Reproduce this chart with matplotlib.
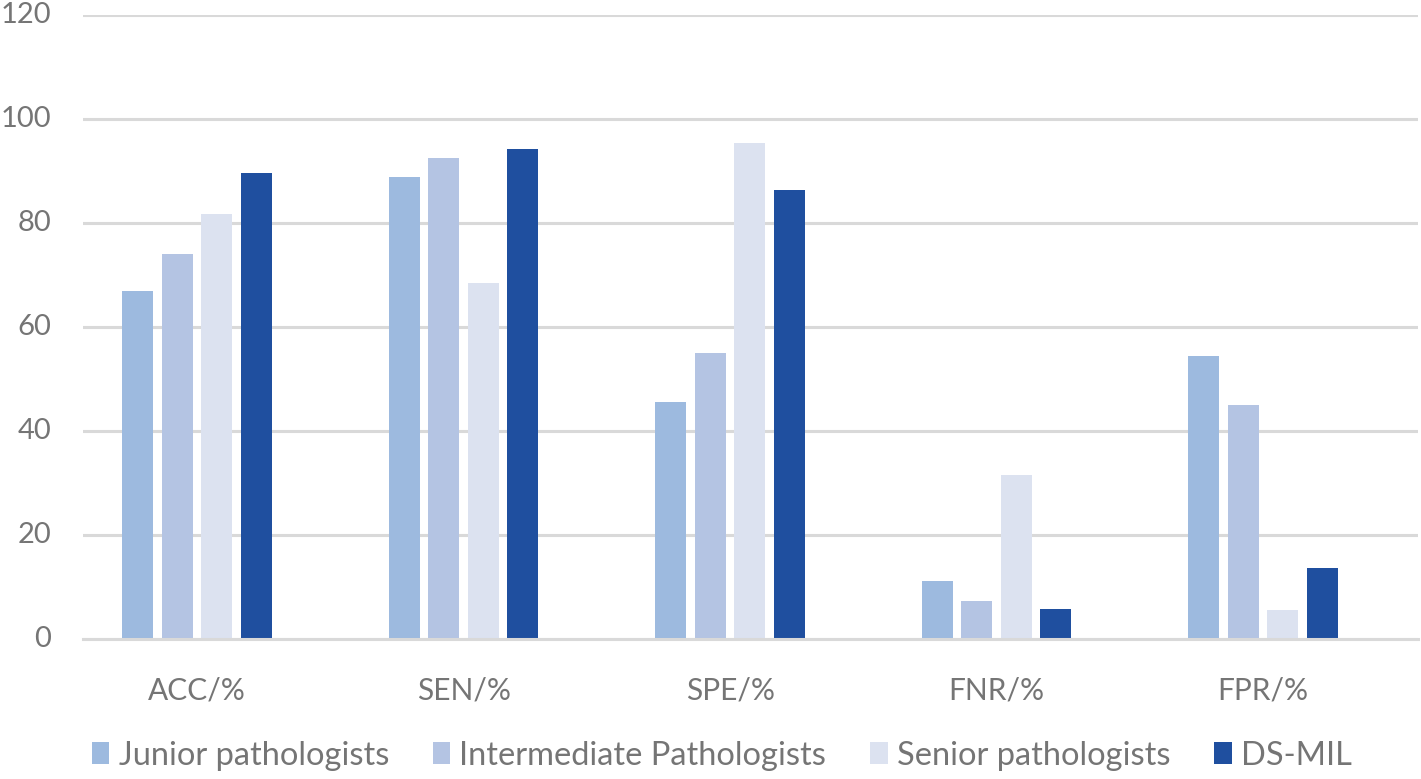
import numpy as np
import matplotlib
matplotlib.use('Agg')
import matplotlib.pyplot as plt

plt.rcParams['font.family'] = ['Lato', 'DejaVu Sans']

categories = ['ACC/%', 'SEN/%', 'SPE/%', 'FNR/%', 'FPR/%']
series = ['Junior pathologists', 'Intermediate Pathologists',
          'Senior pathologists', 'DS-MIL']
junior = [67.0, 88.9, 45.5, 11.1, 54.5]
intermediate = [74.0, 92.6, 55.0, 7.3, 45.0]
senior = [81.7, 68.5, 95.3, 31.5, 5.6]
ds_mil = [89.6, 94.3, 86.3, 5.7, 13.7]
colors = ['#9dbadf', '#b4c4e3', '#dce2f0', '#1f4f9f']

TXT = '#757575'
GRID = '#d9d9d9'

fig = plt.figure(figsize=(14.21, 7.79), dpi=100)
ax = fig.add_axes([0.0584, 0.1797, 0.9396, 0.801])

x = np.arange(len(categories))
step, w = 0.148, 0.117
for i, (name, vals) in enumerate(zip(series, [junior, intermediate, senior, ds_mil])):
    ax.bar(x + (i - 1.5) * step, vals, w, color=colors[i], label=name, zorder=3)

ax.set_xlim(-0.428, 4.582)
ax.set_ylim(0, 120)
ax.set_yticks(range(0, 121, 20))
ax.yaxis.grid(True, color=GRID, lw=2.2, zorder=0)
for s in ('top', 'right', 'left'):
    ax.spines[s].set_visible(False)
ax.spines['bottom'].set_color(GRID)
ax.spines['bottom'].set_linewidth(2.2)
ax.spines['bottom'].set_zorder(4)
ax.tick_params(axis='both', length=0, labelcolor=TXT)
ax.tick_params(axis='y', labelsize=21, pad=23)
ax.tick_params(axis='x', labelsize=21.5, pad=27)
ax.set_xticks(x)
ax.set_xticklabels(categories)
for lab in ax.get_yticklabels():
    lab.set_verticalalignment('center')

leg = fig.legend(loc='lower center', bbox_to_anchor=(0.508, -0.027), ncol=4,
                 frameon=False, fontsize=23.5, handlelength=0.53, handleheight=0.66,
                 handletextpad=0.28, columnspacing=1.35, labelcolor=TXT)

fig.savefig('out.png', dpi=100)
